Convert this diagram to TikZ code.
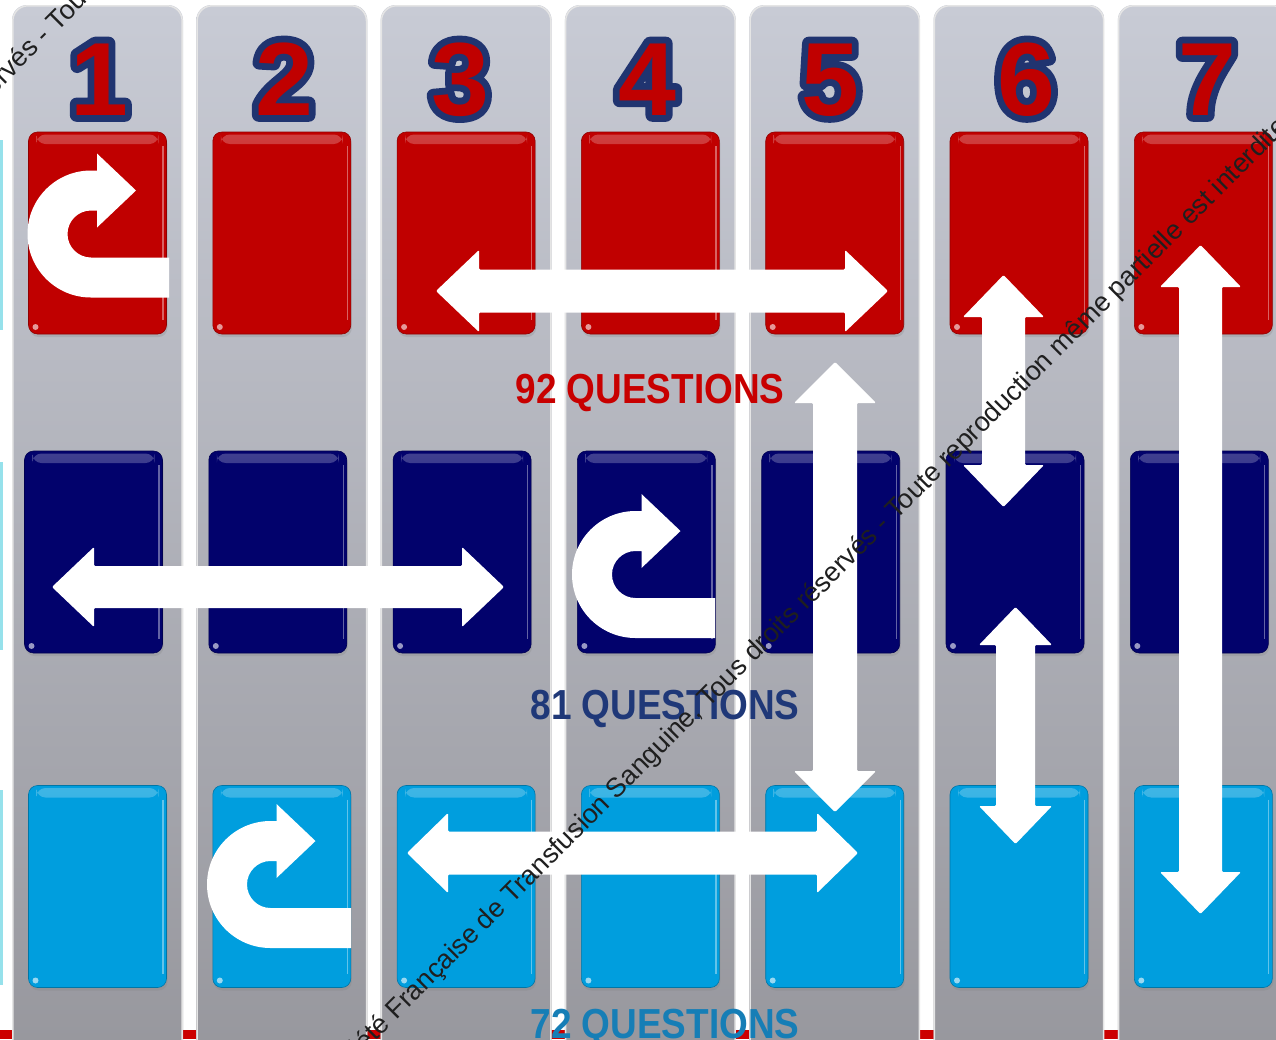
\documentclass[tikz,border=0pt]{standalone}
\usepackage{fontspec}
\usepackage{graphicx}
\setmainfont{Liberation Sans}
\newfontfamily\numoutline{Liberation Sans}[UprightFeatures={FakeBold=13}, BoldFeatures={FakeBold=13}]
\usetikzlibrary{shadows,calc}
\definecolor{tred}{RGB}{192,0,0}
\definecolor{tnavy}{RGB}{2,2,108}
\definecolor{tcyan}{RGB}{0,158,222}
\definecolor{numnavy}{RGB}{32,52,112}
\definecolor{q92}{RGB}{200,0,0}
\definecolor{q81}{RGB}{31,56,120}
\definecolor{q72}{RGB}{22,126,182}
\definecolor{colT}{RGB}{200,203,213}
\definecolor{colM}{RGB}{184,185,195}
\definecolor{colB}{RGB}{150,150,156}
\definecolor{sliver}{RGB}{150,225,235}

\newcommand\hdarrow[6]{% x1, x2, yc, shaft half, head half, head length
  \fill[blockarrow] (#1,#3) -- ({#1+#6},{#3-#5}) -- ({#1+#6},{#3-#4}) -- ({#2-#6},{#3-#4})
    -- ({#2-#6},{#3-#5}) -- (#2,#3) -- ({#2-#6},{#3+#5}) -- ({#2-#6},{#3+#4})
    -- ({#1+#6},{#3+#4}) -- ({#1+#6},{#3+#5}) -- cycle;}
\newcommand\vdarrow[6]{% xc, y1, y2, shaft half, head half, head length
  \fill[blockarrow] (#1,#2) -- ({#1+#5},{#2+#6}) -- ({#1+#4},{#2+#6}) -- ({#1+#4},{#3-#6})
    -- ({#1+#5},{#3-#6}) -- (#1,#3) -- ({#1-#5},{#3-#6}) -- ({#1-#4},{#3-#6})
    -- ({#1-#4},{#2+#6}) -- ({#1-#5},{#2+#6}) -- cycle;}
\newcommand\carrow[3]{% cx, cy, right end of bar
  \fill[white] (#3,{#2+63.5}) -- (#1,{#2+63.5}) arc[start angle=90, end angle=270, radius=63.5]
    -- ({#1+6},{#2-63.5}) -- ({#1+6},{#2-80.5}) -- ({#1+45},{#2-43.5}) -- ({#1+6},{#2-6.5})
    -- ({#1+6},{#2-23.5}) -- (#1,{#2-23.5}) arc[start angle=270, end angle=90, radius=23.5]
    -- (#3,{#2+23.5}) -- cycle;}
\newcommand\outnum[3]{% x, digit, name
  \node[numstyle, text=numnavy, line join=round, miter limit=1,
        font=\fontsize{104}{104}\numoutline\bfseries] at (#1,115) {#2};
  \node[numstyle, text=tred] (#3) at (#1,115) {#2};}

\begin{document}
\begin{tikzpicture}[x=1pt, y=-1pt,
  tile/.style={rectangle, rounded corners=9pt, minimum width=138pt, minimum height=202pt,
    inner sep=0pt, fill=#1, draw=#1!75!black, line width=0.6pt,
    drop shadow={shadow xshift=1pt, shadow yshift=-3pt, opacity=0.25},
    path picture={
      \shade[top color=#1!65!white, bottom color=#1, opacity=0.7]
        ([xshift=8pt,yshift=-2.5pt]path picture bounding box.north west)
        rectangle ([xshift=-8pt,yshift=-12pt]path picture bounding box.north east);
      \draw[#1!45!white, line width=1.2pt, opacity=0.7]
        ([xshift=-3.5pt,yshift=-14pt]path picture bounding box.north east)
        -- ([xshift=-3.5pt,yshift=14pt]path picture bounding box.south east);
      \fill[white, opacity=0.6]
        ([xshift=7pt,yshift=7pt]path picture bounding box.south west) circle (3pt);
    }},
  blockarrow/.style={fill=white, rounded corners=1.2pt},
  numstyle/.style={font=\fontsize{104}{104}\selectfont\bfseries, anchor=base, inner sep=0pt},
  qstyle/.style={font=\fontsize{42}{42}\selectfont\bfseries, anchor=base, inner sep=0pt},
  wm/.style={font=\fontsize{27}{27}\selectfont, text=black!88, inner sep=0pt, rotate=45}]
\useasboundingbox (0,0) rectangle (1276,1039);
\begin{scope}
\clip (0,0) rectangle (1276,1039);
\fill[white] (0,0) rectangle (1276,1039);
\fill[red!80!black] (0,1030) rectangle (1276,1039);
% edge of a tile column off the left side
\fill[sliver] (0,140) rectangle (2.5,330);
\fill[sliver] (0,462) rectangle (2.5,650);
\fill[sliver] (0,790) rectangle (2.5,985);
% columns
\foreach \i in {0,...,6} {
  \pgfmathsetmacro\cl{12+184.3*\i}
  \shade[top color=colT, middle color=colM, bottom color=colB, rounded corners=15pt]
    (\cl,5) rectangle ({\cl+171},1080);
  \draw[white!80!gray, line width=1.5pt, rounded corners=15pt]
    ({\cl+0.8},1080) -- ({\cl+0.8},5.8) -- ({\cl+170.2},5.8) -- ({\cl+170.2},1080);
}
% tiles
\foreach \i in {1,...,7} {
  \pgfmathsetmacro\cx{97.5+184.3*(\i-1)}
  \node[tile=tred] (r\i) at (\cx,233) {};
  \node[tile=tnavy] (n\i) at ({\cx-4},552) {};
  \node[tile=tcyan] (b\i) at (\cx,886.5) {};
}
% column numbers
\outnum{99}{1}{d1}
\outnum{284}{2}{d2}
\outnum{460}{3}{d3}
\outnum{647}{4}{d4}
\outnum{830}{5}{d5}
\outnum{1026}{6}{d6}
\outnum{1207}{7}{d7}
% U-turn arrows
\carrow{91}{234}{169}
\carrow{635.5}{574.5}{715}
\carrow{270.5}{884.5}{351}
% horizontal double arrows
\hdarrow{436}{888}{291}{21.5}{41}{43}
\hdarrow{52}{504}{587}{21}{40}{42}
\hdarrow{407}{858}{853}{21.5}{40}{41}
% vertical double arrows
\vdarrow{835}{362}{812}{22}{41}{41}
\vdarrow{1003.5}{275}{507}{21.5}{40.5}{42}
\vdarrow{1015.5}{607}{844}{19.5}{36.5}{38}
\vdarrow{1200.5}{245}{914}{21.5}{40.5}{42}
% labels
\node[qstyle, text=q92] (q92) at (650,403) {\scalebox{0.88}[1]{92 QUESTIONS}};
\node[qstyle, text=q81] (q81) at (665,719) {\scalebox{0.88}[1]{81 QUESTIONS}};
\node[qstyle, text=q72] (q72) at (665,1038) {\scalebox{0.88}[1]{72 QUESTIONS}};
% watermark line
\node[wm, anchor=base east] (wmA) at (703,714) {Société Française de Transfusion Sanguine,};
\node[wm, anchor=base west] (wmB) at (708.3,708.7) {Tous droits réservés - Toute reproduction même partielle est interdite};
\node[wm, anchor=base east] (wmC) at (52,37.5) {Sanguine, Tous droits réservés -};
\node[wm, anchor=base west] (wmD) at (57.3,32.2) {Toute reproduction};
\end{scope}
\end{tikzpicture}
\end{document}
